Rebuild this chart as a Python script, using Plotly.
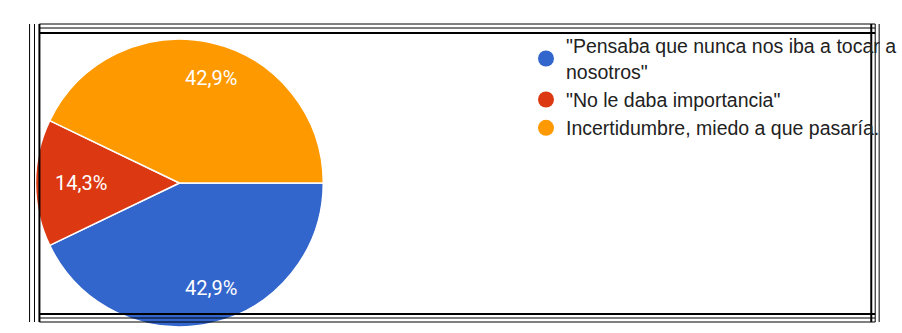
import math
import plotly.graph_objects as go

labels = ['"Pensaba que nunca nos iba a tocar a<br>nosotros"', '"No le daba importancia"', 'Incertidumbre, miedo a que pasaría.']
values = [3, 1, 3]
colors = ["#3366CC", "#DC3912", "#FF9900"]

W, H = 902, 333
cx, cy, r = 182, 183, 146
start_deg = 90  # first slice starts at 3 o'clock, going clockwise

fig = go.Figure()
fig.add_trace(go.Pie(
    labels=labels, values=values, sort=False, direction="clockwise", rotation=start_deg,
    marker=dict(colors=colors, line=dict(color="white", width=1.5)),
    textinfo="none", showlegend=False, hoverinfo="label+percent",
    domain=dict(x=[(cx - r) / W, (cx + r) / W], y=[(H - cy - r) / H, (H - cy + r) / H]),
))
for lab, col in zip(labels, colors):
    fig.add_trace(go.Scatter(x=[None], y=[None], mode="markers", name=lab,
                             marker=dict(color=col, size=18, symbol="circle")))

# slice labels placed at the middle angle of each slice
annotations = []
total = sum(values)
acc = 0
for v in values:
    mid = start_deg + (acc + v / 2) / total * 360
    acc += v
    rad = math.radians(mid)
    f = 0.74
    px = cx + f * r * math.sin(rad)
    py = cy - f * r * math.cos(rad)
    pct = f"{v / total * 100:.1f}".replace(".", ",") + "%"
    annotations.append(dict(x=px / W, y=1 - py / H, xref="paper", yref="paper", text=pct,
                            xanchor="center", yanchor="middle", showarrow=False, xshift=8,
                            font=dict(color="white", size=20, family="Roboto, Arial")))

shapes = []
def hline(y, x0, x1, w):
    shapes.append(dict(type="line", xref="paper", yref="paper", x0=x0 / W, x1=x1 / W,
                       y0=1 - y / H, y1=1 - y / H, line=dict(color="black", width=w)))
def vline(x, y0, y1, w):
    shapes.append(dict(type="line", xref="paper", yref="paper", x0=x / W, x1=x / W,
                       y0=1 - y0 / H, y1=1 - y1 / H, line=dict(color="black", width=w)))
for y, w in [(24, 1), (28, 1), (33, 2)]:
    hline(y, 40, 888, w)
for y, w in [(314, 2), (318, 1), (322, 1)]:
    hline(y, 40, 888, w)
for x, w in [(30, 1), (35, 1), (40, 2)]:
    vline(x, 24, 322, w)
for x, w in [(884, 2), (888, 1), (892, 1)]:
    vline(x, 24, 322, w)

fig.update_layout(
    width=W, height=H, margin=dict(l=0, r=0, t=0, b=0),
    paper_bgcolor="white", plot_bgcolor="white", separators=",.",
    xaxis=dict(visible=False), yaxis=dict(visible=False),
    legend=dict(x=0.592, y=0.92, xanchor="left", yanchor="top",
                font=dict(size=19.5, color="#222222", family="Arial"),
                bgcolor="rgba(0,0,0,0)", itemclick=False),
    shapes=shapes, annotations=annotations,
)
fig.write_html("out.html")
